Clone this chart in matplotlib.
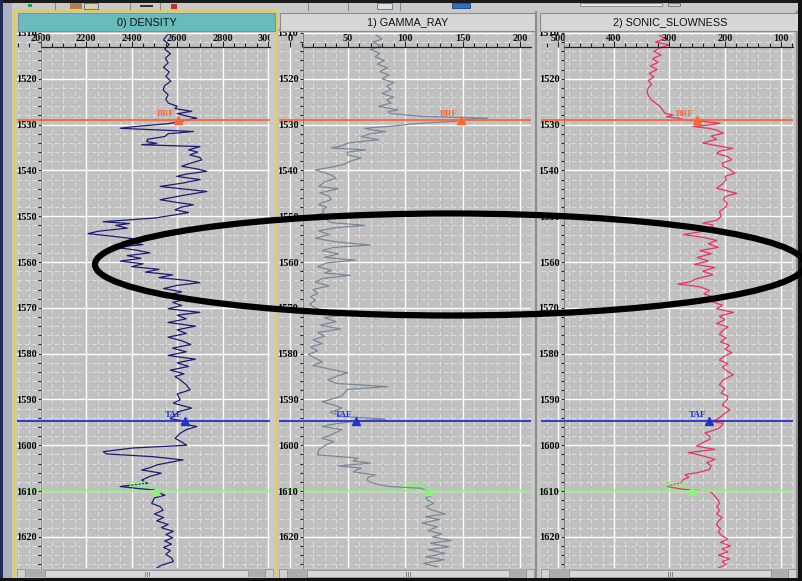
import matplotlib
matplotlib.use("Agg")
import matplotlib.pyplot as plt
import matplotlib.transforms as mtransforms
from matplotlib.patches import Rectangle, Ellipse
from matplotlib.ticker import MultipleLocator, FormatStrFormatter

# ---------------------------------------------------------------- log data
DENSITY_DEPTH = [
    1510.5, 1511.5, 1512.5, 1513.5, 1514.5, 1515.5, 1516.5, 1517.5, 1518.5, 1519.5,
    1520.5, 1521.5, 1522.4, 1523.5, 1524.5, 1525.3, 1526.0, 1526.5, 1527.1, 1527.6,
    1528.1, 1528.6, 1529.0, 1529.3, 1529.8, 1530.4, 1530.8, 1531.0, 1531.5, 1532.0,
    1532.6, 1533.2, 1533.7, 1534.1, 1534.4, 1534.8, 1535.5, 1536.0, 1536.6, 1537.2,
    1537.7, 1538.4, 1539.1, 1539.7, 1540.2, 1540.8, 1541.3, 1542.0, 1542.8, 1543.5,
    1544.0, 1544.6, 1545.5, 1546.4, 1547.0, 1547.5, 1548.0, 1548.6, 1549.2, 1549.7,
    1550.4, 1551.2, 1551.6, 1552.0, 1552.6, 1553.3, 1553.8, 1554.4, 1555.0, 1555.6,
    1556.2, 1556.8, 1557.4, 1558.0, 1558.6, 1559.2, 1559.8, 1560.4, 1561.0, 1561.6,
    1562.2, 1562.8, 1563.4, 1564.0, 1564.5, 1565.1, 1565.8, 1566.5, 1567.2, 1568.0,
    1568.8, 1569.5, 1570.2, 1571.0, 1571.6, 1572.4, 1573.2, 1574.0, 1574.8, 1575.6,
    1576.4, 1577.2, 1578.0, 1578.8, 1579.6, 1580.4, 1581.2, 1582.0, 1582.8, 1583.6,
    1584.4, 1585.0, 1585.7, 1586.8, 1587.9, 1588.8, 1590.1, 1590.8, 1591.9, 1592.6,
    1593.4, 1594.2, 1594.8, 1595.3, 1595.9, 1596.6, 1597.5, 1598.5, 1599.3, 1600.0,
    1600.6, 1601.4, 1601.9, 1602.5, 1603.2, 1603.8, 1604.3, 1604.9, 1605.4, 1606.1,
    1606.8, 1607.6, 1608.3, 1609.0, 1609.4, 1609.8, 1610.4, 1610.9, 1611.5, 1612.0,
    1612.7, 1613.4, 1614.2, 1615.0, 1615.8, 1616.5, 1617.3, 1618.0, 1618.8, 1619.5,
    1620.2, 1620.9, 1621.6, 1622.3, 1623.0, 1623.8, 1624.6, 1625.4, 1626.2, 1626.9,
]
DENSITY = [
    2555, 2540, 2565, 2545, 2570, 2548, 2560, 2540, 2565, 2550,
    2572, 2545, 2538, 2560, 2550, 2561, 2600, 2590, 2664, 2600,
    2640, 2686, 2640, 2613, 2560, 2420, 2349, 2437, 2671, 2560,
    2546, 2470, 2466, 2510, 2444, 2701, 2650, 2690, 2655, 2700,
    2708, 2660, 2620, 2690, 2730, 2640, 2598, 2701, 2620, 2525,
    2620, 2730, 2620, 2525, 2600, 2671, 2620, 2590, 2650, 2590,
    2500, 2275, 2390, 2330, 2380, 2250, 2208, 2320, 2420, 2360,
    2450, 2330, 2420, 2480, 2380, 2440, 2350, 2450, 2400, 2520,
    2460, 2580, 2520, 2640, 2700, 2600, 2540, 2620, 2560, 2650,
    2580, 2620, 2560, 2700, 2600, 2640, 2560, 2680, 2600, 2640,
    2560, 2620, 2660, 2580, 2640, 2560, 2680, 2600, 2650, 2570,
    2630, 2590, 2613, 2640, 2657, 2600, 2613, 2583, 2664, 2610,
    2590, 2569, 2642, 2620, 2686, 2640, 2610, 2591, 2620, 2642,
    2406, 2275, 2290, 2495, 2626, 2560, 2510, 2480, 2444, 2530,
    2480, 2444, 2470, 2349, 2420, 2503, 2520, 2546, 2500, 2495,
    2488, 2525, 2538, 2500, 2540, 2510, 2560, 2530, 2583, 2550,
    2580, 2545, 2575, 2540, 2570, 2550, 2575, 2583, 2530, 2508,
]

GR_DEPTH = [
    1510.5, 1511.3, 1512.0, 1512.8, 1513.6, 1514.4, 1515.2, 1516.0, 1516.8, 1517.6,
    1518.4, 1519.2, 1520.0, 1520.8, 1521.6, 1522.4, 1523.2, 1524.0, 1524.6, 1525.3,
    1526.0, 1526.8, 1527.2, 1527.6, 1528.2, 1528.6, 1528.9, 1529.3, 1529.7, 1530.3,
    1530.8, 1531.2, 1531.5, 1532.0, 1532.6, 1533.3, 1534.0, 1534.6, 1535.1, 1535.5,
    1536.0, 1536.6, 1537.3, 1538.0, 1538.6, 1539.1, 1539.9, 1540.5, 1541.0, 1541.7,
    1542.5, 1543.5, 1544.0, 1544.9, 1545.6, 1546.4, 1547.0, 1547.5, 1548.0, 1548.6,
    1549.2, 1549.7, 1550.5, 1551.4, 1552.0, 1552.5, 1553.2, 1554.0, 1554.8, 1555.6,
    1556.3, 1556.8, 1557.5, 1558.2, 1559.0, 1559.6, 1560.2, 1561.0, 1561.8, 1562.4,
    1562.9, 1563.6, 1564.4, 1565.2, 1566.0, 1566.8, 1567.6, 1568.4, 1569.2, 1570.0,
    1570.8, 1571.5, 1572.2, 1573.0, 1573.8, 1574.6, 1575.4, 1576.2, 1577.0, 1577.8,
    1578.6, 1579.4, 1580.2, 1581.0, 1581.8, 1582.6, 1583.4, 1584.2, 1584.8, 1585.7,
    1586.5, 1587.2, 1587.8, 1589.3, 1590.5, 1591.2, 1591.9, 1592.8, 1593.7, 1594.3,
    1594.7, 1595.3, 1595.9, 1596.6, 1597.7, 1598.5, 1599.2, 1600.1, 1601.0, 1602.1,
    1602.8, 1603.4, 1603.9, 1604.5, 1605.0, 1605.8, 1606.5, 1607.0, 1607.6, 1608.3,
    1609.0, 1609.4, 1610.1, 1610.8, 1611.5, 1612.0, 1612.7, 1613.4, 1614.2, 1615.0,
    1615.6, 1616.2, 1617.0, 1617.8, 1618.6, 1619.4, 1620.0, 1620.8, 1621.4, 1622.2,
    1622.8, 1623.6, 1624.4, 1625.0, 1625.8, 1626.5,
]
GAMMA_RAY = [
    75, 80, 72, 79, 70, 78, 74, 82, 76, 85,
    78, 86, 80, 90, 84, 88, 80, 90, 84, 88,
    77, 94, 85, 88, 114, 172, 150, 143, 114, 90,
    65, 72, 83, 70, 62, 77, 51, 45, 36, 66,
    50, 50, 62, 52, 48, 40, 22, 30, 36, 40,
    30, 25, 42, 26, 34, 36, 28, 25, 32, 28,
    30, 24, 30, 36, 65, 40, 25, 34, 22, 40,
    70, 38, 28, 42, 30, 57, 32, 24, 36, 30,
    52, 28, 22, 34, 20, 24, 18, 22, 17, 22,
    30, 48, 30, 40, 26, 44, 24, 30, 20, 28,
    18, 24, 16, 22, 28, 20, 35, 50, 42, 33,
    40, 85, 50, 45, 28, 38, 45, 35, 45, 83,
    58, 40, 28, 45, 36, 28, 38, 30, 25, 24,
    59, 55, 70, 42, 62, 55, 74, 68, 67, 72,
    86, 114, 120, 125, 118, 120, 125, 118, 124, 135,
    118, 130, 115, 128, 120, 132, 124, 140, 122, 138,
    120, 135, 118, 134, 116, 128,
]

DT_DEPTH = [
    1510.5, 1511.2, 1512.0, 1512.6, 1513.3, 1514.0, 1514.8, 1515.6, 1516.4, 1517.2,
    1518.0, 1518.8, 1519.6, 1520.4, 1521.2, 1522.0, 1522.8, 1523.6, 1524.6, 1525.3,
    1526.0, 1526.8, 1527.5, 1527.9, 1528.3, 1528.6, 1529.0, 1529.3, 1529.7, 1530.1,
    1530.4, 1530.8, 1531.2, 1531.9, 1532.5, 1533.2, 1534.0, 1534.6, 1535.2, 1535.8,
    1536.3, 1537.0, 1537.7, 1538.4, 1539.1, 1539.8, 1540.6, 1541.3, 1542.0, 1543.0,
    1543.9, 1544.5, 1545.0, 1545.7, 1546.4, 1547.2, 1547.9, 1549.0, 1550.0, 1550.9,
    1551.5, 1551.9, 1552.6, 1553.4, 1554.0, 1554.6, 1555.3, 1556.0, 1556.8, 1557.5,
    1558.2, 1559.0, 1559.8, 1560.5, 1561.2, 1562.0, 1562.8, 1563.6, 1564.3, 1564.8,
    1565.4, 1566.2, 1567.0, 1567.8, 1568.6, 1569.4, 1570.2, 1571.0, 1571.8, 1572.6,
    1573.4, 1574.2, 1575.0, 1575.8, 1576.6, 1577.4, 1578.2, 1579.0, 1579.8, 1580.6,
    1581.4, 1582.2, 1583.0, 1583.8, 1584.6, 1585.7, 1586.8, 1587.6, 1588.6, 1589.3,
    1590.0, 1591.2, 1592.3, 1593.0, 1593.7, 1594.4, 1594.8, 1595.2, 1595.7, 1596.2,
    1596.8, 1597.3, 1598.0, 1598.7, 1599.4, 1600.2, 1600.9, 1601.6, 1602.3, 1603.1,
    1603.8, 1604.5, 1605.3, 1606.0, 1606.4, 1607.0, 1607.5, 1608.2, 1609.0, 1609.3,
    1609.6, 1610.1, 1610.6, 1611.2, 1612.0, 1612.7, 1613.4, 1614.2, 1615.0, 1615.8,
    1616.6, 1617.4, 1618.2, 1619.0, 1619.8, 1620.5, 1621.2, 1622.0, 1622.6, 1623.3,
    1624.0, 1624.8, 1625.4, 1626.0, 1626.8,
]
SONIC = [
    318, 308, 325, 300, 318, 328, 315, 330, 320, 334,
    322, 336, 328, 338, 332, 338, 340, 338, 332, 325,
    317, 312, 308, 293, 305, 284, 270, 240, 209, 230,
    257, 230, 215, 203, 225, 215, 240, 215, 186, 210,
    215, 195, 188, 205, 203, 192, 182, 200, 198, 205,
    215, 195, 179, 200, 203, 196, 198, 210, 207, 215,
    240, 222, 225, 245, 275, 240, 215, 230, 212, 245,
    225, 250, 230, 255, 218, 240, 222, 250, 262, 285,
    245, 228, 238, 215, 225, 205, 215, 185, 210, 200,
    215, 195, 205, 210, 198, 208, 192, 200, 188, 202,
    210, 195, 205, 196, 185, 203, 210, 200, 207, 195,
    196, 205, 191, 200, 207, 215, 227, 203, 206, 210,
    222, 236, 228, 227, 240, 251, 218, 266, 240, 218,
    233, 225, 228, 250, 272, 265, 275, 280, 305, 290,
    276, 227, 222, 218, 212, 210, 215, 210, 215, 205,
    212, 215, 208, 212, 205, 195, 208, 190, 205, 195,
    212, 192, 205, 198, 212,
]

# formation tops and the curve value picked at each top, per track
TOP_NAMES = ["BRF", "TAF", "DSHT"]
TOP_DEPTHS = [1529.0, 1594.8, 1609.9]
TOP_COLORS = ["#ff6633", "#2233cc", "#8cf27a"]
DENSITY_PICKS = [2603, 2635, 2507]
GR_PICKS = [149, 57, 121]
DT_PICKS = [251, 228, 260]

TRACK_TITLES = ["0) DENSITY", "1) GAMMA_RAY", "2) SONIC_SLOWNESS"]
DENSITY_TICKS = [2000, 2200, 2400, 2600, 2800, 3000]
GR_TICKS = [0, 50, 100, 150, 200]
DT_TICKS = [500, 400, 300, 200, 100]

# ---------------------------------------------------------------- layout
W, H = 802, 581
TOP_D, BASE_D = 1510.0, 1626.8
PLOT_TOP, PLOT_BOT, SCALE_Y = 33, 568, 47

FIG_BG = "#c9c9c9"
PLOT_BG = "#c0c0c0"
SERIF = ["Liberation Serif", "DejaVu Serif"]
SANS = ["Liberation Sans", "DejaVu Sans"]

fig = plt.figure(figsize=(W / 100, H / 100), dpi=100, facecolor=FIG_BG)


def frect(x0, y0, x1, y1):
    """Pixel box (top-left origin) -> figure fraction rect."""
    return [x0 / W, 1 - y1 / H, (x1 - x0) / W, (y1 - y0) / H]


def fig_box(x0, y0, x1, y1, fc, ec="none", lw=0.0, z=1):
    fig.patches.append(Rectangle((x0 / W, 1 - y1 / H), (x1 - x0) / W, (y1 - y0) / H,
                                 transform=fig.transFigure, facecolor=fc,
                                 edgecolor=ec, linewidth=lw, zorder=z))


def fig_line(xs, ys, color, lw=1.0, z=5):
    fig.add_artist(plt.Line2D([x / W for x in xs], [1 - y / H for y in ys],
                              transform=fig.transFigure, color=color, lw=lw, zorder=z))


tracks = [
    dict(title=TRACK_TITLES[0], left=17, right=270, spine=40.7, cal=(2000, 40.7, 3000, 268.2),
         major=200, minor=50, ticks=DENSITY_TICKS, depth=DENSITY_DEPTH, vals=DENSITY,
         color="#1c1c72", picks=DENSITY_PICKS, hdr="#68bcbc", hx=(18, 275)),
    dict(title=TRACK_TITLES[1], left=279, right=531, spine=302.5, cal=(0, 290.0, 200, 520.0),
         major=50, minor=10, ticks=GR_TICKS, depth=GR_DEPTH, vals=GAMMA_RAY,
         color="#7a8797", picks=GR_PICKS, hdr="#d6d6d6", hx=(280, 535)),
    dict(title=TRACK_TITLES[2], left=541, right=793, spine=563.5, cal=(500, 558.0, 100, 780.7),
         major=100, minor=20, ticks=DT_TICKS, depth=DT_DEPTH, vals=SONIC,
         color="#e8335f", picks=DT_PICKS, hdr="#d6d6d6", hx=(540, 800)),
]

# window chrome: toolbar strip, frames
fig_box(0, 0, W, 3, "#1a1a1a", z=0)
fig_box(0, 0, 3, H, "#1e2a55", z=0)
fig_box(3, 3, 12, H, "#aab0c0", z=0)
fig_box(0, 578, W, H, "#111111", z=6)
fig_box(798, 0, W, H, "#111111", z=6)
# toolbar separators and buttons
for xs in (55, 130, 160, 308, 348, 400):
    fig_line([xs, xs], [3, 10], "#8a8a8a", lw=0.8, z=1)
fig_box(28, 4, 32, 7, "#2aa040", z=1)
fig_box(70, 3, 82, 9, "#b08050", z=1)
fig_box(84, 3, 98, 9, "#d8d0b0", ec="#5070a0", lw=0.6, z=1)
fig_box(140, 5, 153, 7, "#333333", z=1)
fig_box(171, 4, 177, 9, "#c03030", z=1)
fig_box(377, 3, 392, 9, "#e0e0e0", ec="#5070a0", lw=0.6, z=1)
fig_box(452, 3, 470, 8, "#3070c0", ec="#204080", lw=0.6, z=1)
fig_box(580, 3, 662, 6, "#e8e8e8", ec="#808080", lw=0.6, z=1)
fig_box(668, 3, 680, 6, "#d0d0d0", ec="#707070", lw=0.6, z=1)
# track separators
for xs in (535.5, 796.5):
    fig_line([xs, xs], [12, 578], "#8e8e8e", lw=1.6, z=1)

for tr in tracks:
    v1, p1, v2, p2 = tr["cal"]
    s = (p2 - p1) / (v2 - v1)
    xlo = v1 + (tr["left"] - p1) / s
    xhi = v1 + (tr["right"] - p1) / s

    # header
    hx0, hx1 = tr["hx"]
    fig_box(hx0, 13, hx1, 31, tr["hdr"], ec="#8c8c8c", lw=0.8, z=2)
    fig.text((hx0 + hx1) / 2 / W, 1 - 22.5 / H, tr["title"], ha="center", va="center",
             fontsize=7.8, family=SANS, color="#111111", zorder=3)

    # curve area
    ax = fig.add_axes(frect(tr["left"], PLOT_TOP, tr["right"], PLOT_BOT))
    ax.set_facecolor(PLOT_BG)
    ax.set_xlim(xlo, xhi)
    ax.set_ylim(BASE_D, TOP_D)
    ax.xaxis.set_major_locator(MultipleLocator(tr["major"]))
    ax.xaxis.set_minor_locator(MultipleLocator(tr["minor"]))
    ax.yaxis.set_major_locator(MultipleLocator(10))
    ax.yaxis.set_minor_locator(MultipleLocator(2))
    ax.grid(which="major", color="white", lw=1.0)
    ax.grid(which="minor", color="#e4e4e4", lw=0.6, ls=(0, (5, 4)))
    ax.tick_params(which="both", length=0, labelbottom=False, labelleft=False)
    for sp in ax.spines.values():
        sp.set_visible(False)
    ax.plot(tr["vals"], tr["depth"], color=tr["color"], lw=0.9, zorder=3)

    # formation tops
    for name, d, c, v in zip(TOP_NAMES, TOP_DEPTHS, TOP_COLORS, tr["picks"]):
        ax.axhline(d, color=c, lw=1.3, zorder=4)
        ax.plot([v], [d], marker="^", ms=6, color=c, mec=c, zorder=5)
        ax.annotate(name, xy=(v, d), xytext=(-3, 2), textcoords="offset pixels",
                    ha="right", va="bottom", color=c, fontsize=6.5,
                    family=SERIF, fontweight="bold", zorder=6)

    # scale labels along the top
    blend = mtransforms.blended_transform_factory(ax.transData, ax.transAxes)
    yfrac = (PLOT_BOT - 38.5) / (PLOT_BOT - PLOT_TOP)
    for t in tr["ticks"]:
        ax.text(t, yfrac, str(t), transform=blend, ha="center", va="center",
                fontsize=7.5, family=SERIF, fontweight="bold", color="#111111",
                clip_on=True, zorder=7)

    # scale line with ticks
    axs = fig.add_axes(frect(tr["left"], SCALE_Y, tr["right"], PLOT_BOT))
    axs.set_facecolor("none")
    axs.set_xlim(xlo, xhi)
    axs.set_ylim(0, 1)
    axs.xaxis.set_major_locator(MultipleLocator(tr["major"]))
    axs.xaxis.set_minor_locator(MultipleLocator(tr["minor"]))
    axs.xaxis.tick_top()
    axs.tick_params(axis="x", which="major", direction="out", length=4.5, width=0.8,
                    color="#222222", labeltop=False)
    axs.tick_params(axis="x", which="minor", direction="out", length=3, width=0.8,
                    color="#222222")
    axs.set_yticks([])
    for k in ("left", "right", "bottom"):
        axs.spines[k].set_visible(False)
    axs.spines["top"].set_color("#222222")
    axs.spines["top"].set_linewidth(0.9)
    vs = v1 + (tr["spine"] - p1) / s
    axs.spines["top"].set_bounds(min(vs, xhi), max(vs, xhi))

    # depth scale
    axd = fig.add_axes(frect(tr["spine"], PLOT_TOP, tr["right"], PLOT_BOT))
    axd.set_facecolor("none")
    axd.set_ylim(BASE_D, TOP_D)
    axd.set_xticks([])
    axd.yaxis.set_major_locator(MultipleLocator(10))
    axd.yaxis.set_minor_locator(MultipleLocator(2))
    axd.yaxis.set_major_formatter(FormatStrFormatter("%d"))
    axd.tick_params(axis="y", which="major", length=2.5, width=0.8, color="#222222",
                    pad=0.5, labelsize=7.5)
    axd.tick_params(axis="y", which="minor", length=2.2, width=0.8, color="#222222")
    for lab in axd.get_yticklabels():
        lab.set_family(SERIF)
        lab.set_fontweight("bold")
    for k in ("top", "right", "bottom"):
        axd.spines[k].set_visible(False)
    axd.spines["left"].set_color("#666666")
    axd.spines["left"].set_linewidth(0.5)

    # horizontal scrollbar
    sx0, sx1 = tr["left"], tr["right"] + 3
    fig_box(sx0, 569, sx1, 578, "#aeaeae", z=2)
    fig_box(sx0, 569, sx0 + 8, 578, "#d0d0d0", ec="#888888", lw=0.5, z=3)
    fig_box(sx1 - 8, 569, sx1, 578, "#d0d0d0", ec="#888888", lw=0.5, z=3)
    fig_box(sx0 + 28, 570, sx1 - 25, 577, "#d8d8d8", ec="#8a8a8a", lw=0.5, z=3)
    mid = (sx0 + 28 + sx1 - 25) / 2
    for dx in (-2, 0, 2):
        fig_line([mid + dx, mid + dx], [571.5, 575.5], "#777777", lw=0.6)

# selected-track frame
fig_line([14, 14, 276.5, 276.5, 14], [578, 11, 11, 578, 578], "#e8cf3a", lw=1.3, z=6)

# highlighted interval
fig.add_artist(Ellipse((450 / W, 1 - 264.5 / H), 710 / W, 102 / H,
                       transform=fig.transFigure, fill=False, edgecolor="black",
                       linewidth=4.5, zorder=10))

fig.savefig("out.png", dpi=100, facecolor=FIG_BG)
